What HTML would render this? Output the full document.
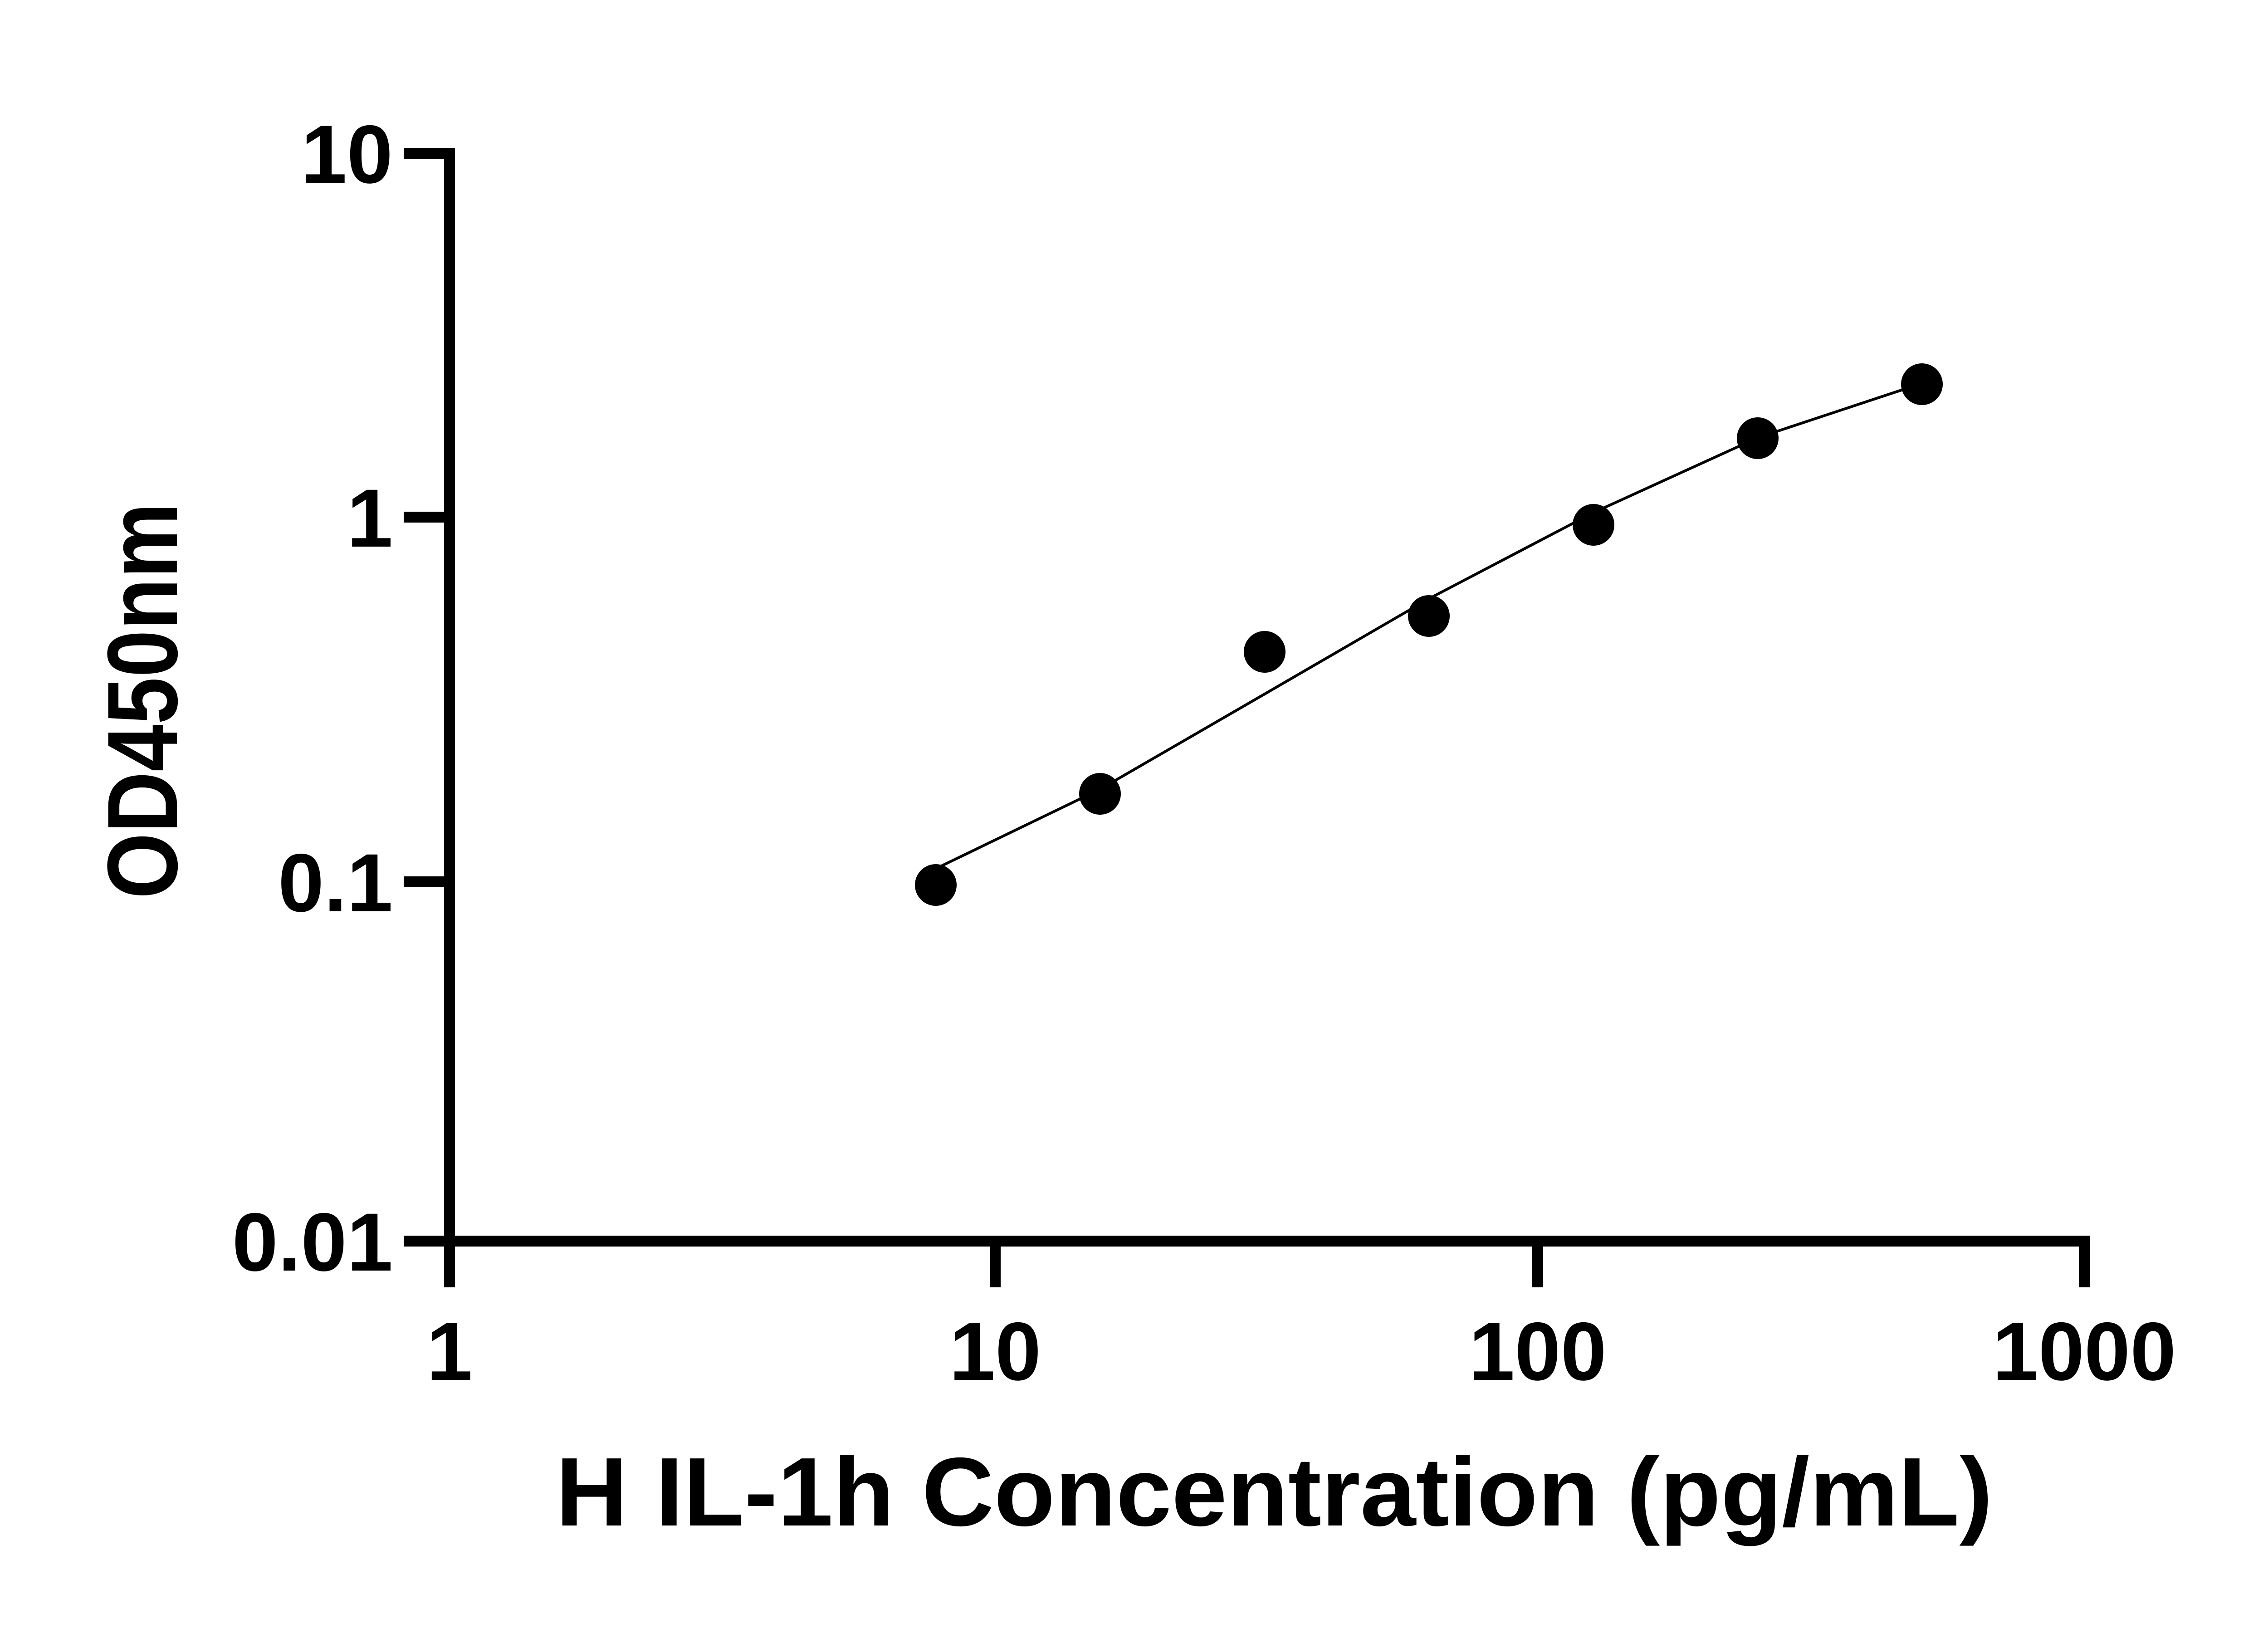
<!DOCTYPE html>
<html><head><meta charset="utf-8"><style>html,body{margin:0;padding:0;background:#fff}svg{display:block}</style></head>
<body>
<svg width="5142" height="3600" viewBox="0 0 5142 3600" xmlns="http://www.w3.org/2000/svg" font-family="Liberation Sans, Arial, sans-serif" font-weight="bold">
<rect width="5142" height="3600" fill="#fff"/>
<g stroke="#000" stroke-width="24" fill="none" stroke-linecap="butt">
<polyline points="890,338 991,338 991,2736 4595,2736 4595,2838"/>
<line x1="890" y1="1140" x2="991" y2="1140"/>
<line x1="890" y1="1944" x2="991" y2="1944"/>
<line x1="890" y1="2736" x2="991" y2="2736"/>
<line x1="991" y1="2736" x2="991" y2="2838"/>
<line x1="2194" y1="2736" x2="2194" y2="2838"/>
<line x1="3390" y1="2736" x2="3390" y2="2838"/>
</g>
<g font-size="182" text-anchor="end">
<text x="866" y="403">10</text>
<text x="866" y="1205">1</text>
<text x="866" y="2009">0.1</text>
<text x="866" y="2801">0.01</text>
</g>
<g font-size="182" text-anchor="middle">
<text x="991" y="3042">1</text>
<text x="2194" y="3042">10</text>
<text x="3390" y="3042">100</text>
<text x="4595" y="3042">1000</text>
</g>
<text x="2809" y="3363" font-size="215" text-anchor="middle" textLength="3168" lengthAdjust="spacingAndGlyphs">H IL-1h Concentration (pg/mL)</text>
<text transform="translate(390,1545) rotate(-90)" font-size="220" text-anchor="middle" textLength="873" lengthAdjust="spacingAndGlyphs">OD450nm</text>
<polyline fill="none" stroke="#000" stroke-width="6" points="2063,1915 2425,1740 2788,1530 3150,1320 3513,1130 3875,965 4237,845"/>
<g fill="#000">
<circle cx="2063" cy="1951" r="46"/>
<circle cx="2425" cy="1750" r="46"/>
<circle cx="2788" cy="1437" r="46"/>
<circle cx="3150" cy="1358" r="46"/>
<circle cx="3513" cy="1157" r="46"/>
<circle cx="3875" cy="966" r="46"/>
<circle cx="4237" cy="847" r="46"/>
</g>
</svg>
</body></html>
